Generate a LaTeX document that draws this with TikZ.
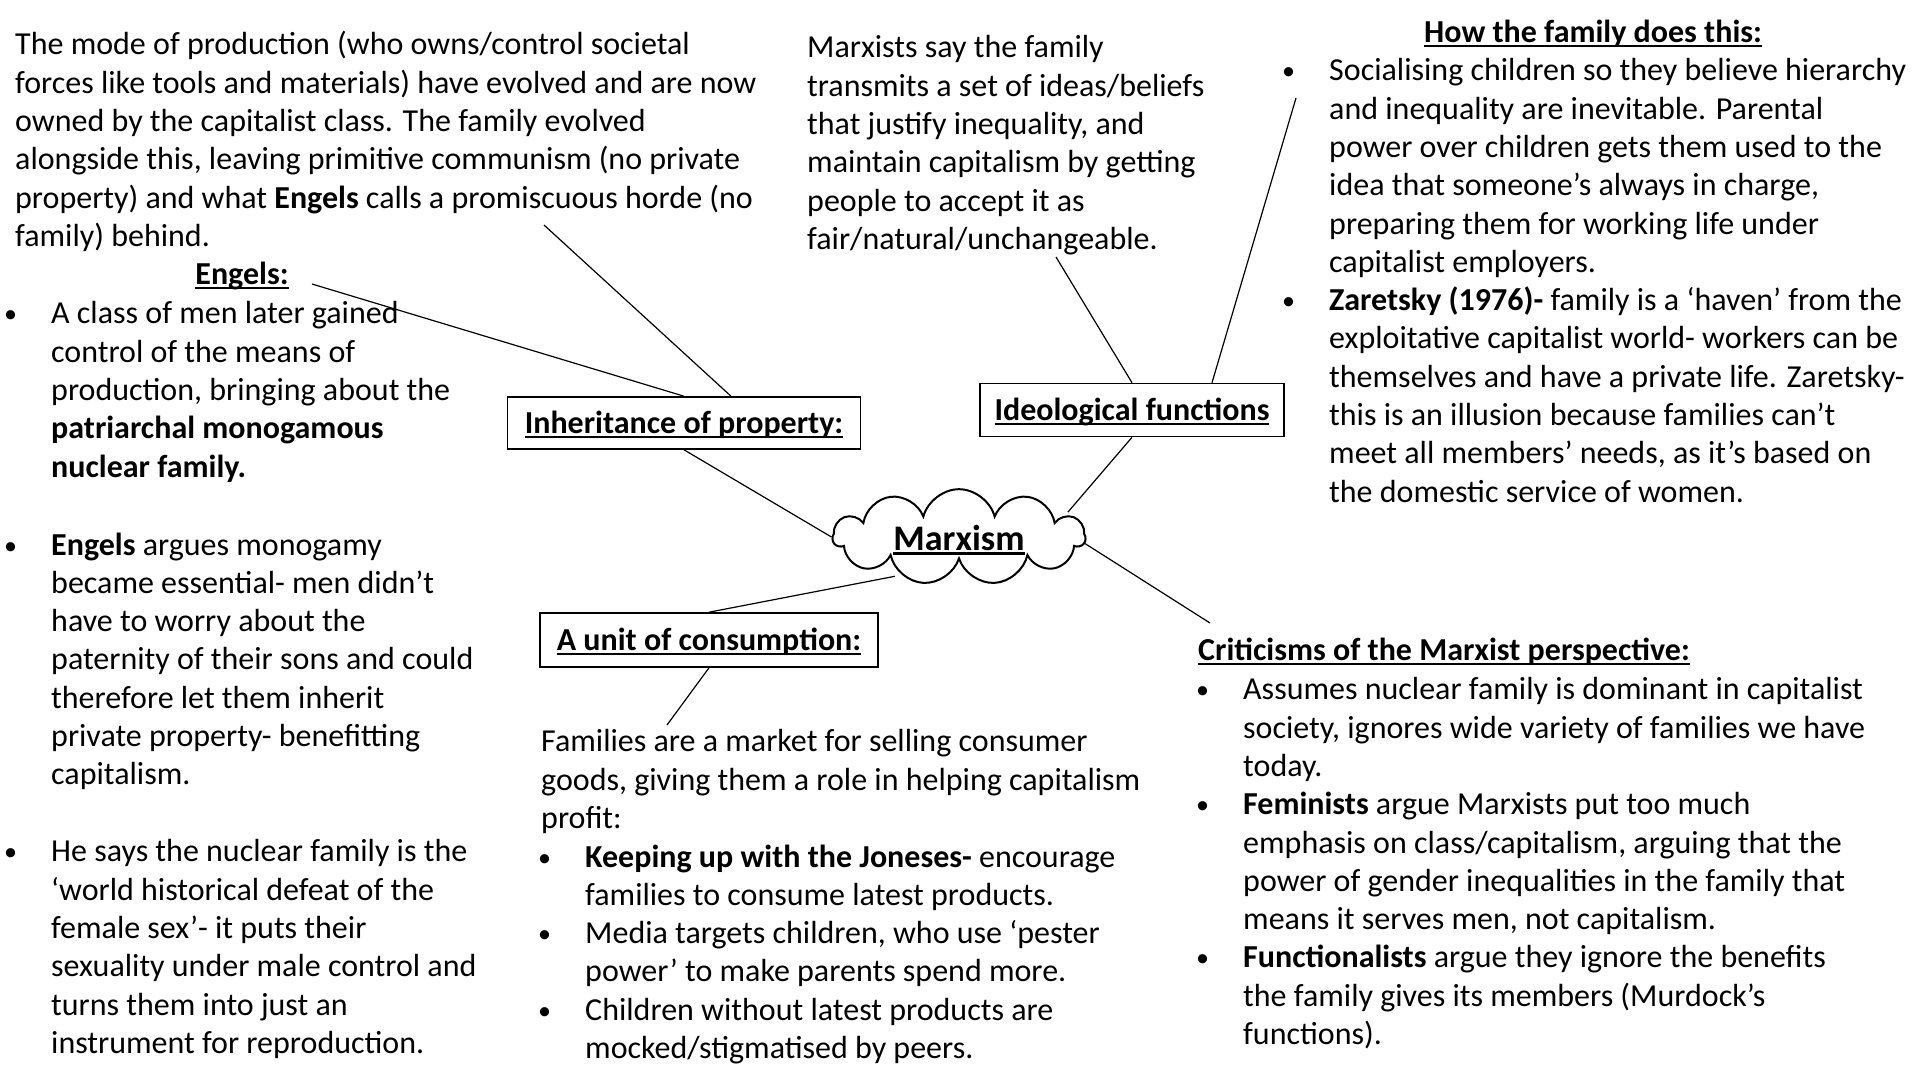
\documentclass[tikz,border=0pt]{standalone}
\usepackage{fontspec}
\setmainfont{Carlito}
\usetikzlibrary{shapes.symbols}

\newcommand\bul{\llap{\makebox[47pt][l]{\raisebox{1pt}{\fontsize{26pt}{26pt}\selectfont\textbullet}}}}
\newcommand\hdr[1]{\textbf{\setbox0\hbox{#1}\rlap{\rule[-4.5pt]{\wd0}{2.4pt}}\box0}}

\begin{document}
\begin{tikzpicture}[
  x=1pt,y=-1pt,
  txt/.style={anchor=north west,align=left,inner sep=0pt,
    font=\fontsize{32pt}{38.3pt}\selectfont,execute at begin node=\rule{0pt}{28pt}},
  head/.style={anchor=base,inner sep=0pt,font=\fontsize{32pt}{38.3pt}\selectfont},
  topic/.style={draw,line width=1.6pt,inner sep=0pt,text height=22pt,text depth=1pt,
    font=\fontsize{32pt}{38.3pt}\selectfont},
  link/.style={line width=1.2pt}
]
  \useasboundingbox (0,0) rectangle (1920,1080);

  \node[txt] (modes) at (15,31.4) {The mode of production (who owns/control societal\\
    forces like tools and materials) have evolved and are now\\
    owned by the capitalist class. The family evolved\\
    alongside this, leaving primitive communism (no private\\
    property) and what \textbf{Engels} calls a promiscuous horde (no\\
    family) behind.};
  \node[head] (engels) at (242,284.4) {\hdr{Engels:}};
  \node[txt] (eng1) at (51,301.4) {\bul A class of men later gained\\
    control of the means of\\
    production, bringing about the\\
    \textbf{patriarchal monogamous}\\
    \textbf{nuclear family.}};
  \node[txt] (eng2) at (51,532.4) {\bul\textbf{Engels} argues monogamy\\
    became essential- men didn’t\\
    have to worry about the\\
    paternity of their sons and could\\
    therefore let them inherit\\
    private property- benefitting\\
    capitalism.};
  \node[txt] (eng3) at (51,839.4) {\bul He says the nuclear family is the\\
    ‘world historical defeat of the\\
    female sex’- it puts their\\
    sexuality under male control and\\
    turns them into just an\\
    instrument for reproduction.};

  \node[txt] (beliefs) at (807,35.4) {Marxists say the family\\
    transmits a set of ideas/beliefs\\
    that justify inequality, and\\
    maintain capitalism by getting\\
    people to accept it as\\
    fair/natural/unchangeable.};

  \node[head] (how) at (1593,42.4) {\hdr{How the family does this:}};
  \node[txt] (howlist) at (1329,58.4) {\bul Socialising children so they believe hierarchy\\
    and inequality are inevitable. Parental\\
    power over children gets them used to the\\
    idea that someone’s always in charge,\\
    preparing them for working life under\\
    capitalist employers.\\
    \bul\textbf{Zaretsky (1976)-} family is a ‘haven’ from the\\
    exploitative capitalist world- workers can be\\
    themselves and have a private life. Zaretsky-\\
    this is an illusion because families can’t\\
    meet all members’ needs, as it’s based on\\
    the domestic service of women.};

  \node[txt] (crit) at (1198,632.4) {\hdr{Criticisms of the Marxist perspective:}};
  \node[txt] (critlist) at (1243,677.4) {\bul Assumes nuclear family is dominant in capitalist\\
    society, ignores wide variety of families we have\\
    today.\\
    \bul\textbf{Feminists} argue Marxists put too much\\
    emphasis on class/capitalism, arguing that the\\
    power of gender inequalities in the family that\\
    means it serves men, not capitalism.\\
    \bul\textbf{Functionalists} argue they ignore the benefits\\
    the family gives its members (Murdock’s\\
    functions).};

  \node[txt] (market) at (541,729.4) {Families are a market for selling consumer\\
    goods, giving them a role in helping capitalism\\
    profit:};
  \node[txt] (marketlist) at (585,844.4) {\bul\textbf{Keeping up with the Joneses-} encourage\\
    families to consume latest products.\\
    \bul Media targets children, who use ‘pester\\
    power’ to make parents spend more.\\
    \bul Children without latest products are\\
    mocked/stigmatised by peers.};

  \node[cloud,cloud puffs=11,aspect=3.2,draw,line width=2pt,inner sep=0pt,
    minimum width=252pt,minimum height=78pt,text height=30pt,text depth=4pt,
    font=\fontsize{36pt}{40pt}\selectfont] (marx) at (959,537) {\hdr{Marxism}};
  \node[topic,minimum width=353pt,minimum height=52pt] (inh) at (684,423) {\hdr{Inheritance of property:}};
  \node[topic,minimum width=304pt,minimum height=53pt] (ideo) at (1132,410) {\hdr{Ideological functions}};
  \node[topic,minimum width=338pt,minimum height=54pt] (unit) at (709,640) {\hdr{A unit of consumption:}};

  \coordinate (e1) at (312,284);
  \coordinate (e2) at (544,225);
  \coordinate (e3) at (1056,257);
  \coordinate (e4) at (1296,98);
  \coordinate (e5) at (1210,623);
  \coordinate (e6) at (667,725);

  \draw[link] (inh.north) -- (e1);
  \draw[link] ([xshift=47pt]inh.north) -- (e2);
  \draw[link] (inh.south) -- (marx.west);
  \draw[link] (ideo.north) -- (e3);
  \draw[link] ([xshift=80pt]ideo.north) -- (e4);
  \draw[link] (ideo.south) -- ([xshift=16pt]marx.15);
  \draw[link] (marx.-3) -- (e5);
  \draw[link] ([xshift=-8pt]marx.215) -- (unit.north);
  \draw[link] (unit.south) -- (e6);
\end{tikzpicture}
\end{document}
